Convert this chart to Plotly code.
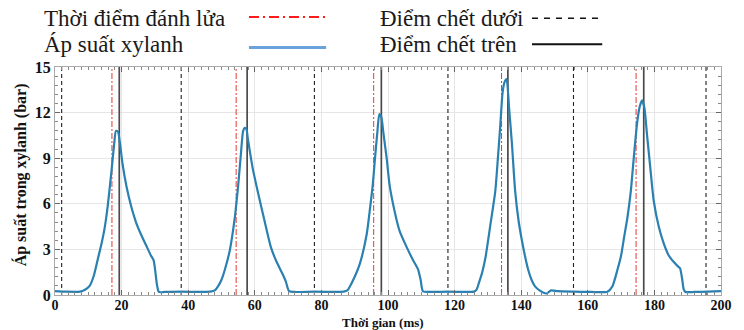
import plotly.graph_objects as go

# Cylinder pressure trace (time in ms, pressure in bar)
time_ms = [0, 3, 7.5,
           9, 10.4, 11.7, 12.9, 14.0, 14.9, 15.8, 16.6, 17.3, 17.8, 18.3, 18.9, 19.5, 20.3, 21.5, 22.8,
           24.3, 25.8, 27.3, 28.8, 29.6, 30.1, 30.6, 31.2,
           33, 38, 43, 46.6,
           48.0, 49.0, 50.0, 51.0, 52.5, 54.0, 55.0, 55.8, 56.5, 57.0, 57.5, 57.9, 59.4, 60.9, 62.9,
           64.9, 66.5, 68.3, 69.3, 70.3,
           72, 78, 84, 86.7,
           87.8, 88.6, 90.0, 91.6, 93.6, 94.6, 95.4, 96.1, 96.8, 97.4, 98.0, 98.6, 99.6, 100.5, 102.0,
           103.5, 105.5, 107.5, 109.0, 109.8, 110.5,
           113, 118, 123, 125.8,
           126.6, 127.3, 128.3, 129.3, 130.8, 132.2, 133.0, 133.7, 134.4, 135.0, 135.6, 136.4, 137.2,
           138.2, 139.2, 140.2, 141.2, 142.1, 143.1, 144.1, 145.5, 147.6, 149, 151,
           156, 161, 165.9,
           167.4, 168.9, 170.0, 170.9, 171.9, 172.9, 173.8, 174.8, 175.6, 176.3, 177.0, 177.8, 178.8,
           179.8, 181.3, 182.8, 184.3, 185.7, 187.0, 187.7, 188.3, 188.8, 189.3,
           192, 196, 200]

pressure_bar = [0.25, 0.22, 0.22,
                0.35, 0.6, 1.3, 2.4, 3.4, 4.4, 5.8, 7.4, 8.9, 10.0, 10.8, 10.75, 10.0, 8.6, 7.1, 5.9,
                4.8, 4.0, 3.3, 2.6, 2.3, 1.6, 0.7, 0.2,
                0.2, 0.22, 0.2, 0.22,
                0.3, 0.58, 1.0, 1.66, 2.95, 5.1, 7.2, 9.2, 10.8, 11.0, 10.9, 10.3, 8.3, 6.8, 4.9,
                3.1, 2.2, 1.4, 0.9, 0.25,
                0.2, 0.22, 0.2, 0.22,
                0.3, 0.58, 1.2, 2.1, 4.0, 5.7, 7.2, 9.0, 10.7, 11.9, 11.7, 10.7, 9.0, 7.2, 5.5,
                4.2, 3.2, 2.3, 1.7, 1.0, 0.25,
                0.2, 0.22, 0.2, 0.22,
                0.35, 0.8, 1.5, 2.5, 4.7, 6.8, 9.0, 11.1, 13.3, 14.0, 14.2, 12.2, 10.0,
                6.8, 4.9, 3.6, 2.5, 1.66, 1.0, 0.58, 0.3, 0.1, 0.3, 0.25,
                0.22, 0.2, 0.22,
                0.58, 1.66, 2.6, 3.8, 5.1, 6.8, 9.0, 11.3, 12.4, 12.8, 12.3, 10.5, 8.3,
                6.2, 4.5, 3.4, 2.6, 2.2, 1.9, 1.76, 1.1, 0.37, 0.2,
                0.2, 0.22, 0.25]

# Event times (ms)
ignition_ms = [17.1, 54.4, 95.7, 134.1, 174.5]   # Thời điểm đánh lửa
bdc_ms = [2.0, 37.9, 77.9, 118.0, 155.7, 195.5]  # Điểm chết dưới
tdc_ms = [19.3, 57.7, 98.0, 136.0, 176.8]        # Điểm chết trên

x_ticks = [0, 20, 40, 60, 80, 100, 120, 140, 160, 180, 200]
y_ticks = [0, 3, 6, 9, 12, 15]
y_range = [0, 15]

legend_labels = ["Thời điểm đánh lửa", "Áp suất xylanh", "Điểm chết dưới", "Điểm chết trên"]
x_title = "Thời gian (ms)"
y_title = "Áp suất trong xylanh (bar)"

SERIF = "Liberation Serif, Tinos, DejaVu Serif"
W, H = 744, 330
ML, MR, MT, MB = 55, 16, 67, 35
PW, PH = W - ML - MR, H - MT - MB


def px(x):
    return (x - ML) / PW


def py(y):
    return (H - MB - y) / PH


def vlines(xs):
    vx, vy = [], []
    for x in xs:
        vx += [x, x, None]
        vy += [y_range[0], y_range[1], None]
    return vx, vy


fig = go.Figure()

bx, by = vlines(bdc_ms)
fig.add_trace(go.Scatter(x=bx, y=by, mode="lines", hoverinfo="skip",
                         line=dict(color="#222222", width=1.1, dash="4px,3px")))
ix, iy = vlines(ignition_ms)
fig.add_trace(go.Scatter(x=ix, y=iy, mode="lines", hoverinfo="skip",
                         line=dict(color="#e03a32", width=1, dash="6px,2px,2px,2px")))
tx, ty = vlines(tdc_ms)
fig.add_trace(go.Scatter(x=tx, y=ty, mode="lines", hoverinfo="skip",
                         line=dict(color="#4a4a4a", width=1.7)))

fig.add_trace(go.Scatter(x=time_ms, y=pressure_bar, mode="lines",
                         line=dict(color="#2a80b0", width=2.2, shape="spline", smoothing=0.6)))

fig.update_xaxes(range=[0, 200], tickvals=x_ticks, ticks="inside", ticklen=5, tickcolor="#666666",
                 showline=True, linecolor="#aaaaaa", linewidth=1, mirror="allticks",
                 showgrid=True, gridcolor="#e6e6e6", gridwidth=1, zeroline=False,
                 tickfont=dict(family=SERIF, size=14, color="#111111", weight="bold"),
                 ticklabelstandoff=-3,
                 minor=dict(dtick=2, ticks="inside", ticklen=3, tickcolor="#888888", showgrid=False))
fig.update_yaxes(range=y_range, tickvals=y_ticks, ticks="inside", ticklen=5, tickcolor="#666666",
                 showline=True, linecolor="#aaaaaa", linewidth=1, mirror="allticks",
                 showgrid=True, gridcolor="#e6e6e6", gridwidth=1, zeroline=False,
                 tickfont=dict(family=SERIF, size=16, color="#111111", weight="bold"),
                 minor=dict(dtick=0.6, ticks="inside", ticklen=3, tickcolor="#888888", showgrid=False))

annotations = [
    dict(text=x_title, xref="paper", yref="paper", x=px(386), y=py(322.6), xanchor="center",
         yanchor="middle", showarrow=False, borderpad=0,
         font=dict(family=SERIF, size=13, color="#111111", weight="bold")),
    dict(text=y_title, xref="paper", yref="paper", x=px(20), y=py(175), xanchor="center",
         yanchor="middle", textangle=-90, showarrow=False,
         font=dict(family=SERIF, size=16, color="#111111", weight="bold")),
]

# Legend block above the plot: text on the left, line sample on the right
legend_font = dict(family=SERIF, size=23, color="#1a1a1a")
legend_rows = [
    (legend_labels[0], 42, 18),
    (legend_labels[1], 42, 45),
    (legend_labels[2], 381, 18),
    (legend_labels[3], 381, 44),
]
for text, lx, ly in legend_rows:
    annotations.append(dict(text=text, xref="paper", yref="paper", x=px(lx), y=py(ly),
                            xanchor="left", yanchor="middle", showarrow=False, font=legend_font))

shapes = [
    dict(type="line", xref="paper", yref="paper", x0=px(251), x1=px(329), y0=py(17), y1=py(17),
         line=dict(color="#ff1a1a", width=2, dash="10px,4px,2px,4px")),
    dict(type="line", xref="paper", yref="paper", x0=px(251), x1=px(329), y0=py(47.5), y1=py(47.5),
         line=dict(color="#6aa2dc", width=3)),
    dict(type="line", xref="paper", yref="paper", x0=px(537), x1=px(608), y0=py(18.3), y1=py(18.3),
         line=dict(color="#111111", width=1.5, dash="6px,6px")),
    dict(type="line", xref="paper", yref="paper", x0=px(537), x1=px(608), y0=py(44.3), y1=py(44.3),
         line=dict(color="#111111", width=2)),
]

fig.update_layout(width=W, height=H, margin=dict(l=ML, r=MR, t=MT, b=MB),
                  paper_bgcolor="white", plot_bgcolor="white", showlegend=False,
                  font=dict(family=SERIF),
                  annotations=annotations, shapes=shapes)

fig.write_html("out.html")
